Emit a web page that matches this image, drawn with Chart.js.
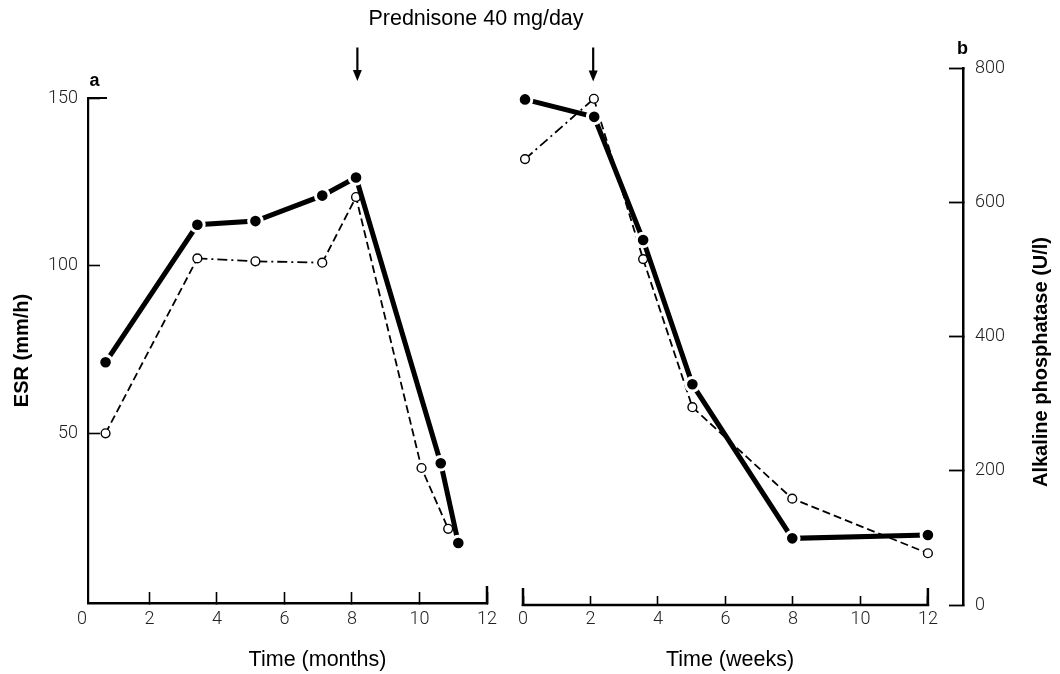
<!DOCTYPE html>
<html>
<head>
<meta charset="utf-8">
<script src="https://cdn.jsdelivr.net/npm/chart.js@4.4.1/dist/chart.umd.min.js"></script>
<style>
  html, body { margin: 0; padding: 0; background: #ffffff; }
  #wrap { position: relative; width: 1060px; height: 674px; background: #ffffff; }
  #wrap canvas { position: absolute; left: 0; top: 0; }
</style>
</head>
<body>
<div id="wrap">
  <canvas id="panelA" width="1060" height="674"></canvas>
  <canvas id="panelB" width="1060" height="674"></canvas>
</div>
<script>
// ---------------- data ----------------
const monthTicks = [0, 2, 4, 6, 8, 10, 12];
const weekTicks  = [0, 2, 4, 6, 8, 10, 12];
const esrTicks   = [50, 100, 150];
const alpTicks   = [0, 200, 400, 600, 800];

// panel a : time in months
const monthsEsr = [0.70, 3.42, 5.14, 7.12, 8.12, 10.63, 11.15];
const esrA      = [71.2, 112.2, 113.3, 120.9, 126.3, 41.1, 17.3];
const monthsAlp = [0.70, 3.42, 5.14, 7.12, 8.12, 10.06, 10.85];
const alpA      = [255.9, 516.6, 512.3, 510.2, 608.1, 204.2, 113.6];

// panel b : time in weeks
const weeksEsr = [0.06, 2.11, 3.56, 5.02, 7.98, 12.0];
const esrB     = [149.5, 144.3, 107.6, 64.6, 18.7, 19.7];
const weeksAlp = [0.06, 2.10, 3.56, 5.02, 7.98, 12.0];
const alpB     = [664.3, 754.2, 515.3, 294.7, 158.4, 77.1];

// start of prednisone 40 mg/day
const arrowMonths = [8.16];
const arrowWeeks  = [2.08];

const titleText  = 'Prednisone 40 mg/day';
const esrTitle   = 'ESR (mm/h)';
const alpTitle   = 'Alkaline phosphatase (U/l)';
const monthTitle = 'Time (months)';
const weekTitle  = 'Time (weeks)';

// ---------------- styles ----------------
const SANS = '"Liberation Sans", Arial, Helvetica, sans-serif';
const TICKFONT = { family: 'Roboto, "Liberation Sans", sans-serif', size: 18, weight: '300' };
const dashDot = [10, 4, 2, 4];
const dashDotSegA = [1, 2];
const dashDotSegB = [0];
const MONTH_AXIS_START = 0.18;

function pts(xs, ys) { return xs.map((x, i) => ({ x: x, y: ys[i] })); }

function esrDataset(xs, ys) {
  return {
    label: 'ESR', data: pts(xs, ys), yAxisID: 'esr',
    borderColor: '#000', borderWidth: 5, borderCapStyle: 'butt',
    pointRadius: 6.8, pointHoverRadius: 6.8,
    pointBackgroundColor: '#000', pointBorderColor: '#fff', pointBorderWidth: 3,
    tension: 0, clip: false, order: 0, fill: false
  };
}
function alpDataset(xs, ys, segs) {
  return {
    label: 'Alkaline phosphatase', data: pts(xs, ys), yAxisID: 'alp',
    borderColor: '#000', borderWidth: 1.8, borderDash: [8, 4],
    segment: { borderDash: ctx => segs.includes(ctx.p0DataIndex) ? dashDot : undefined },
    pointRadius: 4.4, pointHoverRadius: 4.4,
    pointBackgroundColor: '#fff', pointBorderColor: '#000', pointBorderWidth: 1.4,
    tension: 0, clip: false, order: 1, fill: false
  };
}

function line(ctx, x1, y1, x2, y2) {
  ctx.beginPath(); ctx.moveTo(x1, y1); ctx.lineTo(x2, y2); ctx.stroke();
}
function arrow(ctx, x, yTop, yTip) {
  ctx.lineWidth = 2.2;
  line(ctx, x, yTop, x, yTip - 9);
  ctx.beginPath();
  ctx.moveTo(x - 4.5, yTip - 11);
  ctx.lineTo(x + 4.5, yTip - 11);
  ctx.lineTo(x, yTip);
  ctx.closePath();
  ctx.fill();
}

const commonTickStyle = { autoSkip: false, maxRotation: 0, minRotation: 0, color: '#222', font: TICKFONT };

// ---------------- panel a ----------------
const decoA = {
  id: 'decoA',
  afterDraw(chart) {
    const { ctx, chartArea: a, scales } = chart;
    const x = scales.x, esr = scales.esr;
    ctx.save();
    ctx.strokeStyle = '#000'; ctx.fillStyle = '#000';
    // end cap of the time axis
    const xEnd = x.getPixelForValue(monthTicks[monthTicks.length - 1]);
    ctx.lineWidth = 2.5;
    line(ctx, xEnd, a.bottom + 1, xEnd, a.bottom - 17);
    // top stub of the ESR axis
    const yTop = esr.getPixelForValue(esrTicks[esrTicks.length - 1]);
    ctx.lineWidth = 2;
    line(ctx, a.left, yTop, a.left + 19, yTop);
    // arrows
    arrowMonths.forEach(m => arrow(ctx, x.getPixelForValue(m), 47.5, 81));
    // texts
    ctx.textBaseline = 'alphabetic';
    ctx.textAlign = 'center';
    ctx.font = '21.5px ' + SANS;
    ctx.fillText(titleText, 476, 24.5);
    ctx.fillText(monthTitle, 317.5, 665.5);
    ctx.textAlign = 'left';
    ctx.font = 'bold 18px ' + SANS;
    ctx.fillText('a', 89.5, 86);
    ctx.restore();
  }
};

new Chart(document.getElementById('panelA'), {
  type: 'line',
  data: { datasets: [esrDataset(monthsEsr, esrA), alpDataset(monthsAlp, alpA, dashDotSegA)] },
  options: {
    responsive: false, animation: false, events: [],
    layout: { padding: { left: 0, top: 98, right: 573, bottom: 0 } },
    plugins: { legend: { display: false }, tooltip: { enabled: false } },
    scales: {
      x: {
        type: 'linear', position: 'bottom', min: MONTH_AXIS_START, max: 12,
        afterBuildTicks: s => { s.ticks = monthTicks.map(v => ({ value: v })); },
        afterFit: s => { s.height = 71; },
        grid: {
          drawOnChartArea: false, drawTicks: true, tickLength: -11, tickWidth: 1.6,
          tickColor: c => (c.tick && c.tick.value < MONTH_AXIS_START) ? 'rgba(0,0,0,0)' : '#000'
        },
        border: { display: true, color: '#000', width: 2.5 },
        ticks: Object.assign({ padding: 17 }, commonTickStyle)
      },
      esr: {
        type: 'linear', position: 'left', min: -0.57, max: 150,
        afterBuildTicks: s => { s.ticks = esrTicks.map(v => ({ value: v })); },
        afterFit: s => { s.width = 88; },
        grid: { drawOnChartArea: false, drawTicks: true, tickLength: -12, tickWidth: 1.6, tickColor: '#000' },
        border: { display: true, color: '#000', width: 2.2 },
        ticks: Object.assign({ padding: 22 }, commonTickStyle),
        title: { display: true, text: esrTitle, color: '#000',
                 font: { family: SANS, size: 20, weight: 'bold' }, padding: { top: 10.5, bottom: 0 } }
      },
      alp: { type: 'linear', display: false, min: 2.98, max: 755.7 }
    }
  },
  plugins: [decoA]
});

// ---------------- panel b ----------------
const decoB = {
  id: 'decoB',
  afterDraw(chart) {
    const { ctx, chartArea: a, scales } = chart;
    const x = scales.x;
    ctx.save();
    ctx.strokeStyle = '#000'; ctx.fillStyle = '#000';
    const x0 = x.getPixelForValue(weekTicks[0]);
    const x1 = x.getPixelForValue(weekTicks[weekTicks.length - 1]);
    ctx.lineWidth = 2.5;
    ctx.lineCap = 'square';
    line(ctx, x0, a.bottom, x1, a.bottom);
    ctx.lineCap = 'butt';
    line(ctx, x0, a.bottom + 1, x0, a.bottom - 17);
    line(ctx, x1, a.bottom + 1, x1, a.bottom - 17);
    arrowWeeks.forEach(w => arrow(ctx, x.getPixelForValue(w), 47.5, 81.5));
    ctx.textBaseline = 'alphabetic';
    ctx.textAlign = 'center';
    ctx.font = '21.5px ' + SANS;
    ctx.fillText(weekTitle, 730, 665.5);
    ctx.textAlign = 'left';
    ctx.font = 'bold 18px ' + SANS;
    ctx.fillText('b', 957, 54);
    ctx.save();
    ctx.translate(1046.5, 362);
    ctx.rotate(-Math.PI / 2);
    ctx.textAlign = 'center';
    ctx.font = 'bold 20px ' + SANS;
    ctx.fillText(alpTitle, 0, 0);
    ctx.restore();
    ctx.restore();
  }
};

new Chart(document.getElementById('panelB'), {
  type: 'line',
  data: { datasets: [esrDataset(weeksEsr, esrB), alpDataset(weeksAlp, alpB, dashDotSegB)] },
  options: {
    responsive: false, animation: false, events: [],
    layout: { padding: { left: 523, top: 68, right: 0, bottom: 0 } },
    plugins: { legend: { display: false }, tooltip: { enabled: false } },
    scales: {
      x: {
        type: 'linear', position: 'bottom', min: 0, max: 13.04,
        afterBuildTicks: s => { s.ticks = weekTicks.map(v => ({ value: v })); },
        afterFit: s => { s.height = 69; },
        grid: { drawOnChartArea: false, drawTicks: true, tickLength: -9, tickWidth: 1.6, tickColor: '#000' },
        border: { display: false },
        ticks: Object.assign({ padding: 13 }, commonTickStyle)
      },
      alp: {
        type: 'linear', position: 'right', min: 0, max: 800,
        afterBuildTicks: s => { s.ticks = alpTicks.map(v => ({ value: v })); },
        afterFit: s => { s.width = 97; },
        grid: { drawOnChartArea: false, drawTicks: true, tickLength: -14, tickWidth: 1.8, tickColor: '#000' },
        border: { display: true, color: '#000', width: 2.5 },
        ticks: Object.assign({ padding: 26 }, commonTickStyle)
      },
      esr: { type: 'linear', display: false, min: -1.16, max: 158.85 }
    }
  },
  plugins: [decoB]
});
</script>
</body>
</html>
